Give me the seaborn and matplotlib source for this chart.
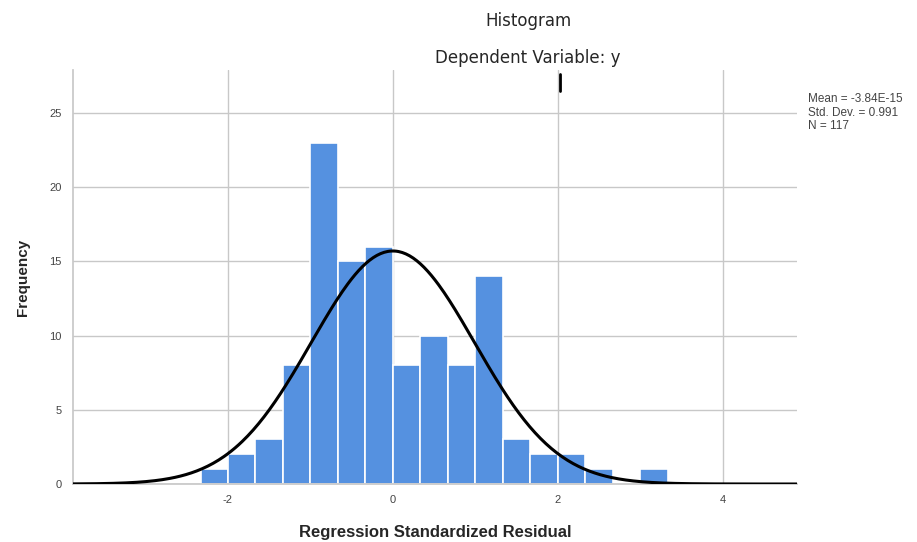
import numpy as np
import pandas as pd
import matplotlib
matplotlib.use("Agg")
import matplotlib.pyplot as plt
import seaborn as sns
from matplotlib.lines import Line2D

# Data
bin_edges = [-7/3 + k/3 for k in range(18)]
counts = [1, 2, 3, 8, 23, 15, 16, 8, 10, 8, 14, 3, 2, 2, 1, 0, 1]
mean_val = -3.84e-15
std_val = 0.991
n_val = 117
x_ticks = [-2, 0, 2, 4]
y_ticks = [0, 5, 10, 15, 20, 25]

sns.set_theme(style="white")
plt.rcParams['font.family'] = ['Liberation Sans', 'DejaVu Sans']

fig = plt.figure(figsize=(9.17, 5.42), dpi=100)
ax = fig.add_axes([0.0796, 0.107, 0.869 - 0.0796, 0.871 - 0.107])

centers = [(bin_edges[i] + bin_edges[i + 1]) / 2 for i in range(len(counts))]
df = pd.DataFrame({"x": centers, "w": counts})
sns.histplot(data=df, x="x", weights="w", bins=bin_edges, ax=ax,
             color="#5591E0", alpha=1.0, edgecolor="white", linewidth=1.2, zorder=2)

bw = bin_edges[1] - bin_edges[0]
xs = np.linspace(-3.9, 4.9, 400)
ys = n_val * bw / (std_val * np.sqrt(2 * np.pi)) * np.exp(-0.5 * ((xs - mean_val) / std_val) ** 2)
sns.lineplot(x=xs, y=ys, ax=ax, color="black", linewidth=2.2, zorder=3)

ax.set_xlim(-3.88, 4.9)
ax.set_ylim(0, 27.9)
ax.set_xticks(x_ticks)
ax.set_yticks(y_ticks)
ax.set_xticklabels([str(v) for v in x_ticks], fontsize=8, color="#444444")
ax.set_yticklabels([str(v) for v in y_ticks], fontsize=8, color="#444444")
ax.tick_params(axis="both", length=0, pad=8)
ax.grid(True, color="#c8c8c8", linewidth=1.0, zorder=0)
ax.set_axisbelow(True)
for s in ["top", "right"]:
    ax.spines[s].set_visible(False)
ax.spines["left"].set_color("#c8c8c8")
ax.spines["bottom"].set_color("#c8c8c8")

ax.set_xlabel("Regression Standardized Residual", fontsize=12, fontweight="bold", labelpad=14)
ax.set_ylabel("Frequency", fontsize=11, fontweight="bold", labelpad=14)

fig.text(0.576, 0.962, "Histogram", ha="center", va="center", fontsize=12,
         family=['DejaVu Sans'])
fig.text(0.576, 0.893, "Dependent Variable: y", ha="center", va="center", fontsize=12,
         family=['DejaVu Sans'])
fig.add_artist(Line2D([560 / 917, 560 / 917], [1 - 74 / 542, 1 - 91 / 542],
                      transform=fig.transFigure, color="black", linewidth=2))

fig.text(0.881, 0.792,
         "Mean = -3.84E-15\nStd. Dev. = 0.991\nN = 117",
         ha="left", va="center", fontsize=8.5, color="#444444", linespacing=1.15)

fig.savefig("out.png", dpi=100)
